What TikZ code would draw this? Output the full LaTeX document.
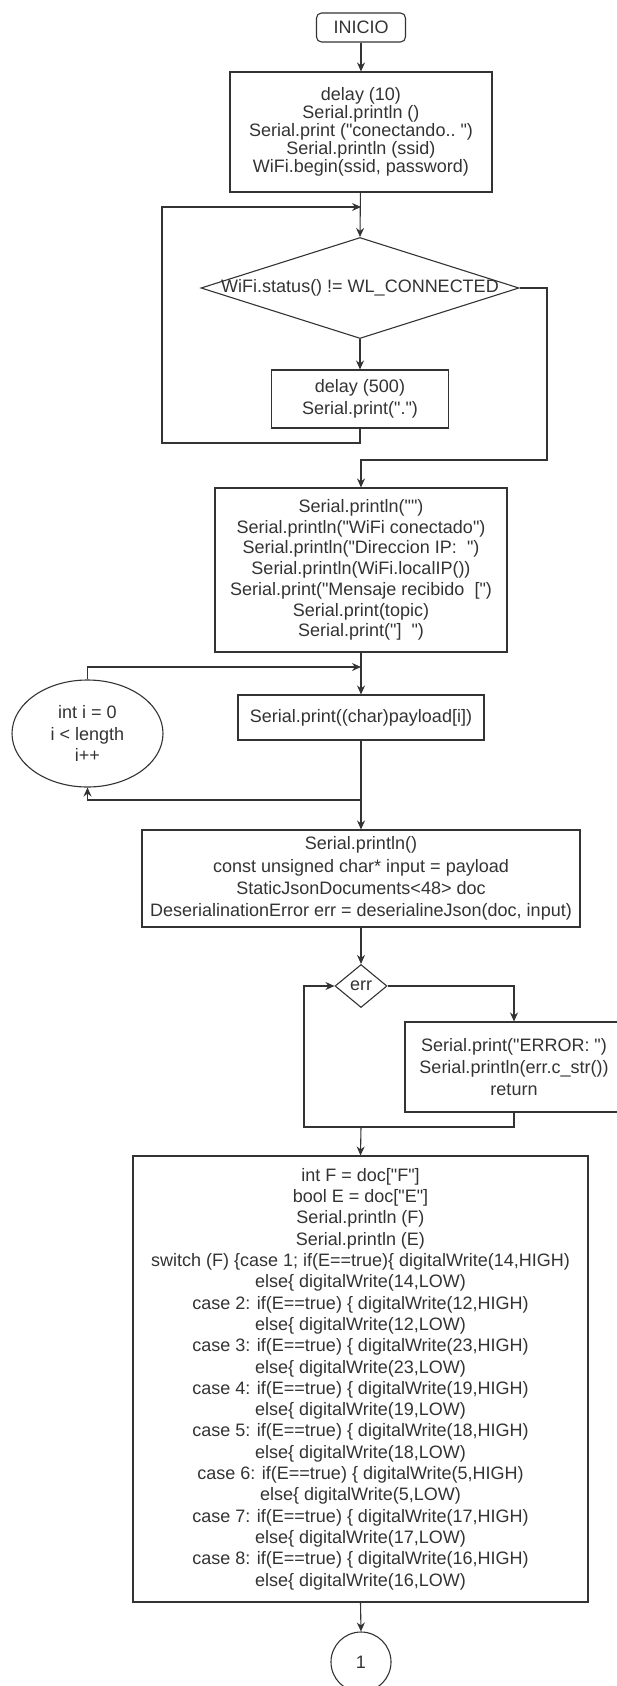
\documentclass[tikz,border=0pt]{standalone}
\usepackage{fontspec}
\setmainfont{Liberation Sans}[Ligatures=TeXOff]
\usetikzlibrary{shapes.geometric,arrows.meta}
\begin{document}
\begin{tikzpicture}[x=1pt,y=-1pt,
  box/.style={draw=black!80, line width=1.1pt, rectangle, inner sep=0pt, align=center, text=black!80},
  shp/.style={draw=black!80, line width=1.1pt, inner sep=0pt, align=center, text=black!80},
  arr/.style={draw=black!80, line width=1.1pt, -{Stealth[length=9pt,width=8pt]}},
  ln/.style={draw=black!80, line width=1.1pt},
  fs/.style={font=\fontsize{18}{#1}\selectfont},
  ]
\useasboundingbox (0,0) rectangle (617,1686);
\clip (0,0) rectangle (617,1686);

% nodes
\node[box, rounded corners=5pt, minimum width=89pt, minimum height=29pt, fs=18] (inicio) at (361,27.5) {INICIO};

\node[box, minimum width=262pt, minimum height=120pt, fs=18] (b1) at (361,132)
  {delay (10)\\Serial.println ()\\Serial.print ("conectando..\ ")\\Serial.println (ssid)\\WiFi.begin(ssid, password)};

\node[shp, diamond, minimum width=318pt, minimum height=101pt] (dia) at (360,288) {};
\node[text=black!80, fs=18, inner sep=0pt] (diat) at (dia.center) {WiFi.status() != WL\_CONNECTED};

\node[box, minimum width=177pt, minimum height=58pt, fs=22] (b2) at (360,399)
  {delay (500)\\Serial.print(".")};

\node[box, minimum width=292pt, minimum height=164pt, fs=20.7] (b3) at (361,570)
  {Serial.println("")\\Serial.println("WiFi conectado")\\Serial.println("Direccion IP:\ \ ")\\Serial.println(WiFi.localIP())\\Serial.print("Mensaje recibido\ \ [")\\Serial.print(topic)\\Serial.print("]\ \ ")};

\node[box, minimum width=246pt, minimum height=45pt, fs=20] (b5) at (361,717.5)
  {Serial.print((char)payload[i])};

\node[shp, ellipse, minimum width=151pt, minimum height=107pt, fs=21.5] (ell) at (87.5,733.5)
  {int i = 0\\i < length\\i++};

\node[box, minimum width=438pt, minimum height=97pt, fs=22.3] (b4) at (361,878.5)
  {Serial.println()\\const unsigned char* input = payload\\StaticJsonDocuments<48> doc\\DeserialinationError err = deserialineJson(doc, input)};

\node[shp, diamond, minimum width=52pt, minimum height=43pt, fs=18] (err) at (361,986) {err};

\node[box, minimum width=218pt, minimum height=90pt, fs=22] (b6) at (514,1067)
  {Serial.print("ERROR: ")\\Serial.println(err.c\_str())\\return};

\node[box, minimum width=455pt, minimum height=446pt, fs=21.3] (b7) at (360.5,1379)
  {int F = doc["F"]\\bool E = doc["E"]\\Serial.println (F)\\Serial.println (E)\\
   switch (F) \{case 1; if(E==true)\{ digitalWrite(14,HIGH)\\else\{ digitalWrite(14,LOW)\\
   case 2: if(E==true) \{ digitalWrite(12,HIGH)\\else\{ digitalWrite(12,LOW)\\
   case 3: if(E==true) \{ digitalWrite(23,HIGH)\\else\{ digitalWrite(23,LOW)\\
   case 4: if(E==true) \{ digitalWrite(19,HIGH)\\else\{ digitalWrite(19,LOW)\\
   case 5: if(E==true) \{ digitalWrite(18,HIGH)\\else\{ digitalWrite(18,LOW)\\
   case 6: if(E==true) \{ digitalWrite(5,HIGH)\\else\{ digitalWrite(5,LOW)\\
   case 7: if(E==true) \{ digitalWrite(17,HIGH)\\else\{ digitalWrite(17,LOW)\\
   case 8: if(E==true) \{ digitalWrite(16,HIGH)\\else\{ digitalWrite(16,LOW)};

\node[shp, circle, minimum size=60pt, fs=18] (c1) at (361,1662) {1};

% junction coordinates
\coordinate (j1) at (361,207);
\coordinate (lp1) at (162,443);
\coordinate (lp2) at (162,207);
\coordinate (r1) at (547,460);
\coordinate (j3) at (361,667);
\coordinate (j4) at (361,800);
\coordinate (lb1) at (304,1127);
\coordinate (j5) at (361,1127);

% connectors
\draw[arr] (inicio) -- (b1);
\draw[arr] (b1) -- (dia.north);
\draw[arr] (b2.south) |- (lp1) -- (lp2) -- (j1);
\draw[arr] (dia.south) -- (b2.north);
\draw[arr] (dia.east) -| (r1) -| (b3.north);
\draw[arr] (b3.south) -- (b5.north);
\draw[arr] (ell.north) |- (j3);
\draw[arr] (b5.south) -- (b4.north);
\draw[arr] (j4) -| (ell.south);
\draw[arr] (b4.south) -- (err.north);
\draw[arr] (err.east) -| (b6.north);
\draw[arr] (b6.south) |- (lb1) |- (err.west);
\draw[arr] (j5) -- (b7.north);
\draw[arr] (b7.south) -- (c1.north);
\end{tikzpicture}
\end{document}
